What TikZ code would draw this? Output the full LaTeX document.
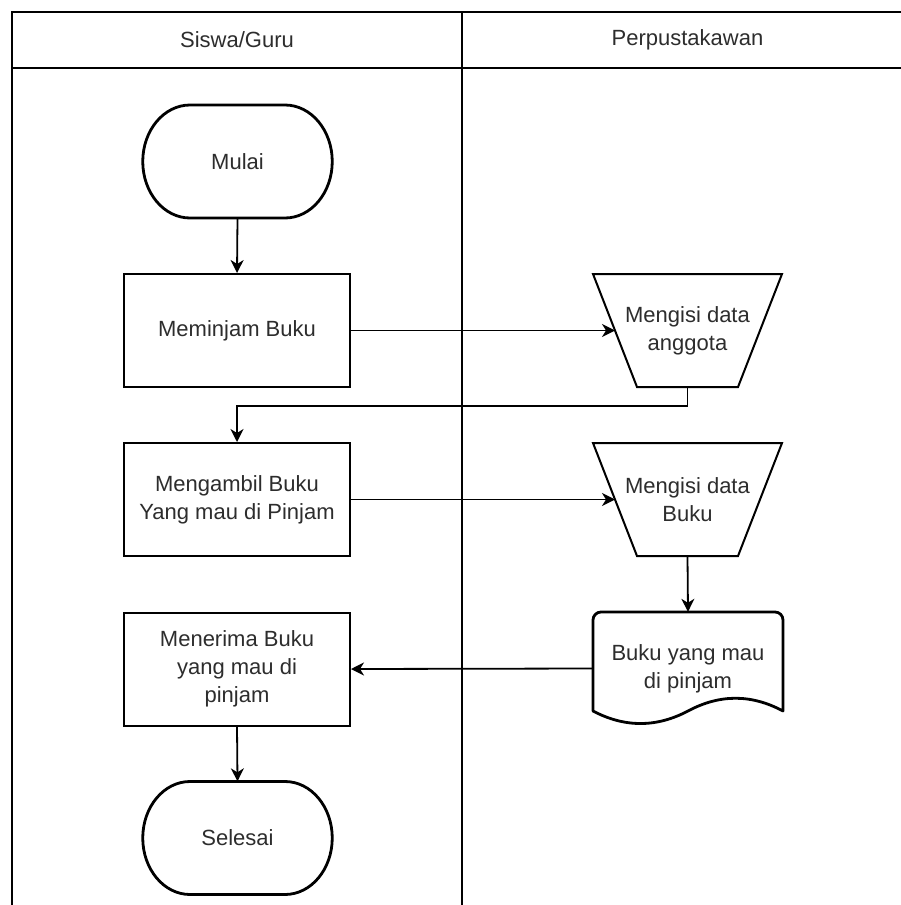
\documentclass[tikz,border=0pt]{standalone}
\usepackage{fontspec}
\setmainfont{Liberation Sans}
\usetikzlibrary{arrows.meta}
\definecolor{txt}{RGB}{45,45,45}
\definecolor{ln}{RGB}{0,0,0}
\tikzset{
  lbl/.style={draw=none, text=txt, align=center, inner sep=0pt,
    font=\fontsize{22}{28}\selectfont},
  procbox/.style={lbl, draw=ln, line width=2pt, minimum width=226pt, minimum height=113pt},
  termbox/.style={lbl, minimum width=189pt, minimum height=113pt},
  shapebox/.style={lbl, minimum width=190pt, minimum height=113pt},
  outline/.style={draw=ln, line width=2pt},
  thick outline/.style={draw=ln, line width=2.8pt},
  arr/.style={draw=ln, line width=1.8pt, -{Stealth[length=13pt,width=13pt,inset=4pt]}},
}
\begin{document}
\begin{tikzpicture}[x=1pt,y=-1pt]
\useasboundingbox (0,0) rectangle (901,905);
\fill[white] (0,0) rectangle (901,905);
% swimlane frame
\draw[outline] (12,905) -- (12,12) -- (901,12);
\draw[outline] (12,68) -- (901,68);
\draw[outline] (462,12) -- (462,905);
\node[lbl] (hl) at (237,40) {Siswa/Guru};
\node[lbl] (hr) at (687.5,40) {Perpustakawan};

% Mulai terminator
\draw[thick outline] (190,105) -- (285,105)
  arc[start angle=-90, end angle=90, x radius=47.25, y radius=56.5]
  -- (190,218)
  arc[start angle=90, end angle=270, x radius=47.25, y radius=56.5] -- cycle;
\node[termbox] (mulai) at (237.5,161.5) {Mulai};

% Selesai terminator
\draw[thick outline] (190,781.5) -- (285,781.5)
  arc[start angle=-90, end angle=90, x radius=47.25, y radius=56.5]
  -- (190,894.5)
  arc[start angle=90, end angle=270, x radius=47.25, y radius=56.5] -- cycle;
\node[termbox] (selesai) at (237.5,838) {Selesai};

% process boxes
\node[procbox] (meminjam) at (237,330.5) {Meminjam Buku};
\node[procbox] (mengambil) at (237,499.5) {Mengambil Buku\\Yang mau di Pinjam};
\node[procbox] (menerima) at (237,669) {Menerima Buku\\yang mau di\\pinjam};

% manual input trapezoids
\draw[outline, line join=miter] (593,274) -- (782,274) -- (738,387) -- (637,387) -- cycle;
\node[shapebox, minimum width=189pt] (anggota) at (687.5,330.5) {Mengisi data\\anggota};
\coordinate (anggotain) at (615,330.5);
\draw[outline, line join=miter] (593,443) -- (782,443) -- (738,556) -- (637,556) -- cycle;
\node[shapebox, minimum width=189pt] (isibuku) at (687.5,499.5) {Mengisi data\\Buku};
\coordinate (isibukuin) at (615,499.5);

% document shape
\draw[thick outline, line join=round]
  (593,711) -- (593,620) arc[start angle=180, end angle=270, radius=8] -- (775,612)
  arc[start angle=-90, end angle=0, radius=8] -- (783,711)
  .. controls (751.3,694) and (719.7,694) .. (688,711)
  .. controls (656.3,727.7) and (624.7,727.7) .. (593,711) -- cycle;
\node[shapebox] (dok) at (688,668.5) {Buku yang mau\\di pinjam};

% connectors
\draw[arr] (mulai.south) -- (meminjam.north);
\draw[arr] (meminjam.east) -- (anggotain);
\draw[arr] (anggota.south) -- ++(0,19) -| (mengambil.north);
\draw[arr] (mengambil.east) -- (isibukuin);
\draw[arr] (isibuku.south) -- (dok.north);
\draw[arr] (dok.west) -- (menerima.east);
\draw[arr] (menerima.south) -- (selesai.north);
\end{tikzpicture}
\end{document}
